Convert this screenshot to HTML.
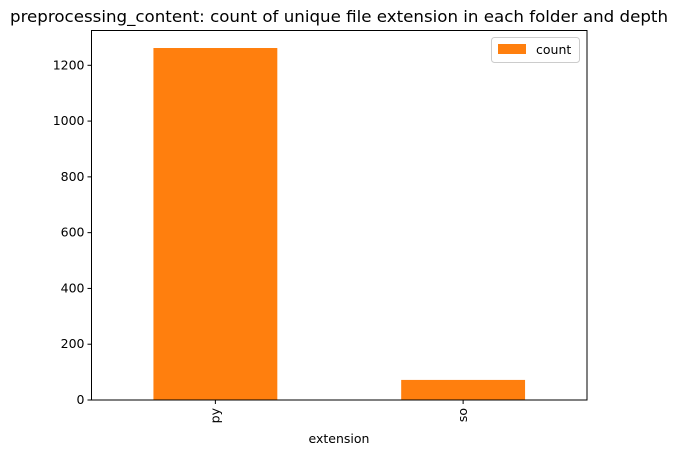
<!DOCTYPE html>
<html><head><meta charset="utf-8"><style>
body{margin:0;background:#fff;font-family:"Liberation Sans",sans-serif;}
svg text{font-family:"DejaVu Sans","Liberation Sans",sans-serif;fill:#000;}
</style></head><body>
<svg id="chart" width="678" height="456">
<text x="10" y="22" font-size="16" textLength="658" lengthAdjust="spacingAndGlyphs">preprocessing_content: count of unique file extension in each folder and depth</text>
<g id="bars"></g>
<g id="yaxis"></g>
<g id="xaxis"></g>
<rect x="91.5" y="30.5" width="495.5" height="369.5" fill="none" stroke="#000" stroke-width="1"/>
<text x="339" y="443" font-size="12.5" text-anchor="middle">extension</text>
<g>
<rect x="491.5" y="37.5" width="88" height="25" rx="3" fill="#fff" stroke="#ccc"/>
<rect x="498" y="44" width="28" height="10" fill="#ff7f0e"/>
<text x="536" y="54" font-size="12.5">count</text>
</g>
</svg>
<script>
const categories = ["py","so"];
const counts = [1262, 72];
const yTicks = [0,200,400,600,800,1000,1200];
const NS="http://www.w3.org/2000/svg";
const x0=91.5,x1=587,y0=400,pxPer=(400-65.3)/1200;
const y=v=>y0-v*pxPer;
const bw=(x1-x0)/categories.length;
const xc=i=>x0+bw*(i+0.5);
function mk(t,a,p){const e=document.createElementNS(NS,t);for(const k in a)e.setAttribute(k,a[k]);p.appendChild(e);return e;}
const bars=document.getElementById('bars'),ya=document.getElementById('yaxis'),xa=document.getElementById('xaxis');
counts.forEach((v,i)=>{
const r=mk('rect',{x:xc(i)-bw*0.25,y:y(v),width:bw*0.5,height:y0-y(v),fill:'#ff7f0e'},bars);


const tk=mk('line',{x1:xc(i),x2:xc(i),y1:y0,y2:y0+4,stroke:'#000'},xa);


const t=mk('text',{x:0,y:0,'font-size':12.5,'text-anchor':'end',transform:`translate(${xc(i)+4},${y0+8}) rotate(-90)`},xa);
t.textContent=categories[i];


});
yTicks.forEach(v=>{
const tk=mk('line',{x1:x0-4,x2:x0,y1:y(v),y2:y(v),stroke:'#000'},ya);


const t=mk('text',{x:x0-7,y:y(v)+4,'font-size':12.5,'text-anchor':'end'},ya);
t.textContent=v;


});
</script>
</body></html>
